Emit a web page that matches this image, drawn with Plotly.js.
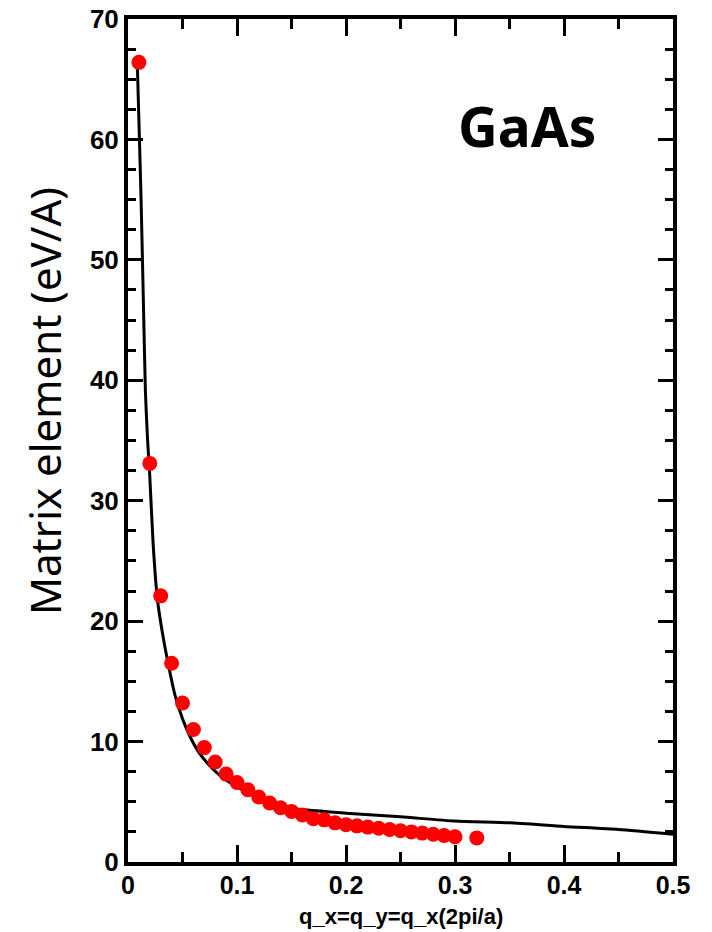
<!DOCTYPE html>
<html>
<head>
<meta charset="utf-8">
<script src="https://cdn.plot.ly/plotly-3.0.1.min.js"></script>
<style>html,body{margin:0;padding:0;background:#fff;}#chart{width:712px;height:932px;}</style>
</head>
<body>
<div id="chart"></div>
<script>
// Calculated points (red dots)
const dotQ = [0.01,0.02,0.03,0.04,0.05,0.06,0.07,0.08,0.09,0.10,0.11,0.12,0.13,0.14,0.15,0.16,0.17,0.18,0.19,0.20,0.21,0.22,0.23,0.24,0.25,0.26,0.27,0.28,0.29,0.30,0.32];
const dotM = [66.4,33.1,22.1,16.5,13.2,11.0,9.5,8.3,7.3,6.6,6.0,5.4,4.9,4.5,4.2,3.9,3.6,3.5,3.25,3.1,3.0,2.9,2.8,2.7,2.6,2.5,2.4,2.3,2.2,2.1,2.0];
// Model curve (black line)
const lineQ = [0.0085,0.0105,0.012,0.014,0.016,0.018,0.020,0.023,0.027,0.032,0.037,0.043,0.050,0.057,0.065,0.075,0.087,0.105,0.127,0.146,0.20,0.25,0.30,0.35,0.40,0.45,0.50];
const lineM = [66.4,60,55,47,39,35,32,26.5,21.8,18.8,16.4,13.9,11.9,10.4,9.1,8.0,7.0,6.0,5.0,4.5,4.05,3.75,3.4,3.25,2.95,2.7,2.3];
const xTickVals = [0,0.1,0.2,0.3,0.4,0.5];
const xTickText = ['0','0.1','0.2','0.3','0.4','0.5'];
const yTickVals = [0,10,20,30,40,50,60,70];
const yTickText = ['0','10','20','30','40','50','60','70'];
const xTitle = 'q_x=q_y=q_x(2pi/a)';
const yTitle = 'Matrix element (eV/A)';
const label = 'GaAs';

const traces = [
  {x: lineQ, y: lineM, mode: 'lines', type: 'scatter', line: {color: '#000', width: 3, shape: 'spline', smoothing: 0.6}, hoverinfo: 'skip'},
  {x: dotQ, y: dotM, mode: 'markers', type: 'scatter', marker: {color: '#ff0000', size: 15, line: {width: 0}}}
];

const tickFontY = {family: 'Liberation Sans, Arial, sans-serif', size: 26, color: '#000', weight: 'bold'};
const tickFontX = {family: 'Liberation Sans, Arial, sans-serif', size: 25, color: '#000', weight: 'bold'};

const layout = {
  width: 712, height: 932,
  margin: {l: 128, r: 39, t: 19, b: 70, pad: 0},
  paper_bgcolor: '#fff', plot_bgcolor: '#fff',
  showlegend: false,
  xaxis: {
    range: [0, 0.5], tickvals: xTickVals, ticktext: xTickText,
    ticks: 'inside', ticklen: 17, tickwidth: 3, tickcolor: '#000',
    minor: {dtick: 0.05, tick0: 0, ticks: 'inside', ticklen: 10, tickwidth: 3, tickcolor: '#000', showgrid: false},
    showline: true, linewidth: 4, linecolor: '#000', mirror: 'ticks',
    showgrid: false, zeroline: false, tickfont: tickFontX, ticklabelstandoff: -2
  },
  yaxis: {
    range: [0, 70], tickvals: yTickVals, ticktext: yTickText,
    ticks: 'inside', ticklen: 15, tickwidth: 3, tickcolor: '#000',
    minor: {dtick: 2.5, tick0: 0, ticks: 'inside', ticklen: 8, tickwidth: 3, tickcolor: '#000', showgrid: false},
    showline: true, linewidth: 4, linecolor: '#000', mirror: 'ticks',
    showgrid: false, zeroline: false, tickfont: tickFontY
  },
  annotations: [
    {text: xTitle, xref: 'paper', yref: 'paper', x: 0.5, y: -0.0645, showarrow: false, borderpad: 0,
     font: {family: 'Liberation Sans, Arial, sans-serif', size: 22, color: '#000', weight: 'bold'}, xanchor: 'center', yanchor: 'middle'},
    {text: yTitle, xref: 'paper', yref: 'paper', x: -0.152, y: 0.547, textangle: -90, showarrow: false,
     font: {family: 'Noto Sans, sans-serif', size: 42, color: '#000'}, xanchor: 'center', yanchor: 'middle'},
    {text: label, xref: 'paper', yref: 'paper', x: 0.732, y: 0.874, showarrow: false,
     font: {family: 'Noto Sans, sans-serif', size: 55, color: '#000', weight: 'bold'}, xanchor: 'center', yanchor: 'middle'}
  ]
};

Plotly.newPlot('chart', traces, layout, {displayModeBar: false, staticPlot: true});
</script>
</body>
</html>
